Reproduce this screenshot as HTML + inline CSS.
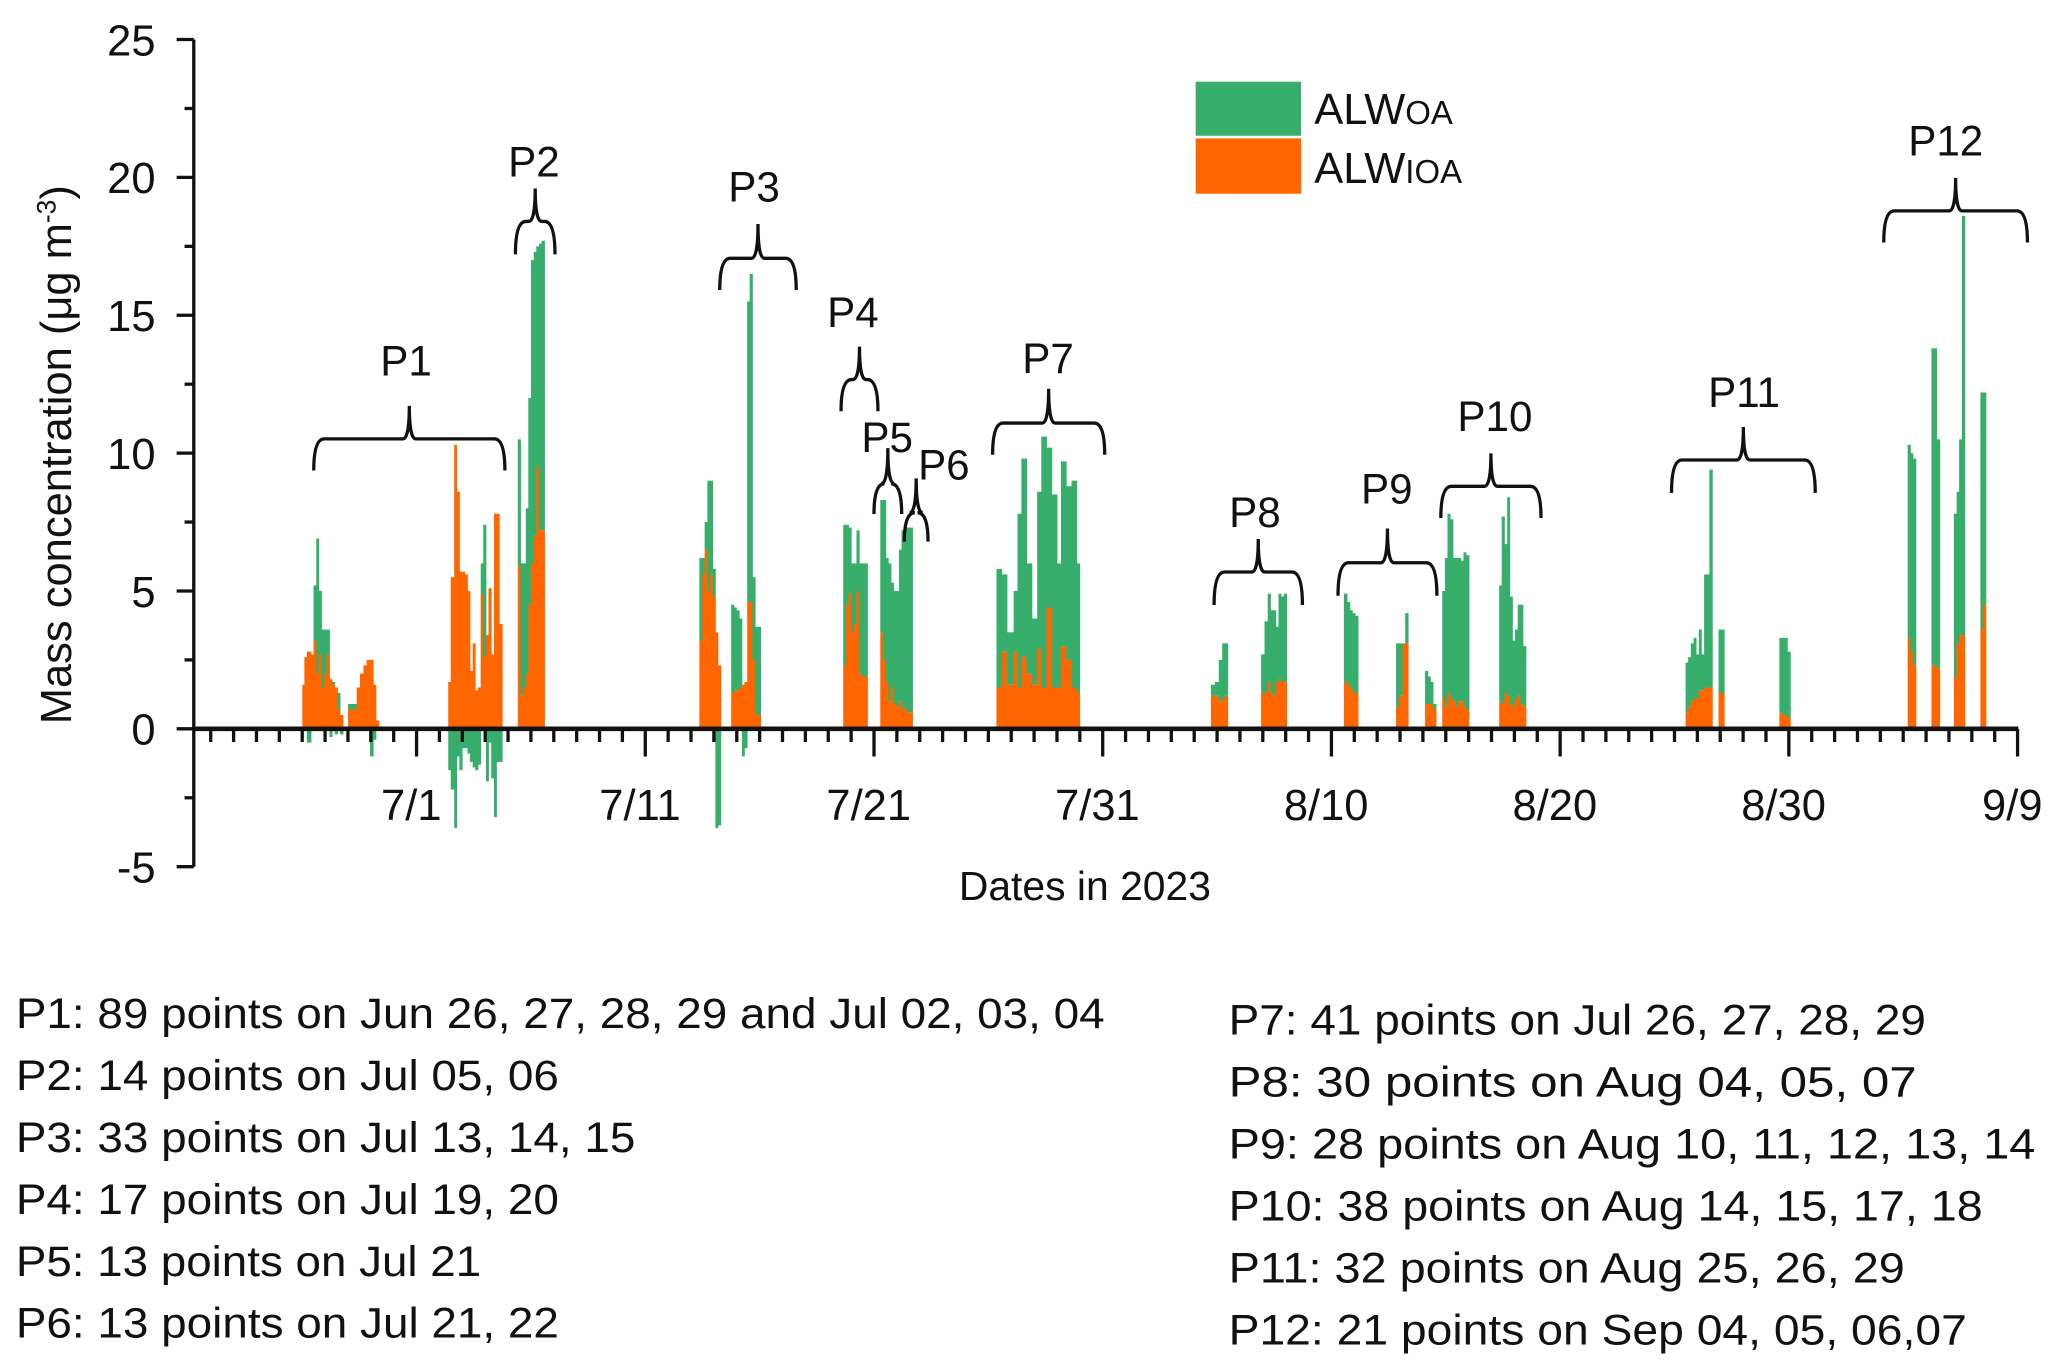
<!DOCTYPE html>
<html><head><meta charset="utf-8"><style>
html,body{margin:0;padding:0;background:#fff;}
svg{display:block;font-family:"Liberation Sans",Arial,sans-serif;}
</style></head><body>
<svg id="chart" width="2067" height="1372" viewBox="0 0 1568 1041" preserveAspectRatio="none" xmlns="http://www.w3.org/2000/svg">
<rect width="1568" height="1041" fill="#fff"/>
<g id="bars"></g>
<g id="axes"></g>
<g id="braces"></g>
<text transform="translate(54,345) rotate(-90)" text-anchor="middle" font-size="33" fill="#111">Mass concentration (μg m<tspan font-size="20" dy="-12">-3</tspan><tspan dy="12">)</tspan></text>
<text x="823" y="683" text-anchor="middle" font-size="31" fill="#111">Dates in 2023</text>
<g>
<rect x="907" y="62" width="80" height="41" fill="#37ae6b"/>
<rect x="907" y="105" width="80" height="42" fill="#ff6600"/>
<text x="997" y="94" font-size="33" fill="#111">ALW<tspan font-size="25">OA</tspan></text>
<text x="997" y="139" font-size="33" fill="#111">ALW<tspan font-size="25">IOA</tspan></text>
</g>
<g id="notes"></g>
</svg>
<script>
const NS='http://www.w3.org/2000/svg';
// days since Jul 1 2023
const times=[-4.93,-4.84,-4.73,-4.55,-4.44,-4.32,-4.21,-4.09,-3.97,-3.86,-3.74,-3.63,-3.51,-3.39,-3.28,-2.93,-2.81,-2.55,-2.41,-2.26,-2.12,-1.97,-1.83,-1.71,
1.45,1.56,1.71,1.82,1.94,2.06,2.17,2.29,2.40,2.52,2.63,2.75,2.87,2.98,3.10,3.21,3.33,3.45,3.56,3.68,
4.49,4.61,4.72,4.84,4.95,5.07,5.19,5.30,5.42,5.53,
12.43,12.55,12.66,12.78,12.89,13.01,13.13,13.24,13.82,13.94,14.05,14.17,14.29,14.40,14.52,14.63,14.75,14.87,14.98,
18.72,18.84,18.95,19.07,19.18,19.30,19.42,19.53,19.65,
20.34,20.46,20.58,20.69,20.81,20.92,
21.04,21.16,21.27,21.39,21.50,21.62,
25.42,25.65,25.88,26.17,26.34,26.51,26.74,26.97,27.20,27.38,27.61,27.84,28.07,28.24,28.47,28.70,28.93,
34.80,34.97,35.14,35.29,35.40,36.99,37.14,37.28,37.40,37.51,37.63,37.75,37.86,37.98,
40.61,40.75,40.87,40.98,41.10,42.89,43.03,43.18,43.29,44.16,44.28,44.39,44.51,
44.91,45.03,45.14,45.26,45.38,45.49,45.61,45.72,45.84,45.95,47.40,47.51,47.63,47.75,47.86,47.98,48.09,48.21,48.32,48.44,
55.55,55.66,55.78,55.90,56.01,56.13,56.24,56.36,56.47,56.59,56.99,57.11,59.65,59.77,59.88,60.00,
65.26,65.38,65.49,66.30,66.42,66.53,67.28,67.40,67.51,67.63,68.44,68.55];
const ioa=[1.6,2.6,2.8,2.7,3.2,2.0,2.7,1.5,2.0,2.7,1.8,1.6,1.5,0.7,0.5,0.7,0.7,1.5,2.0,2.3,2.5,2.5,1.6,0.3,
1.7,5.5,10.3,8.6,5.7,5.7,5.6,5.0,2.1,3.1,1.4,1.5,4.9,2.6,3.4,5.1,2.7,7.8,7.8,3.8,
5.9,1.2,1.5,2.0,4.5,6.0,7.0,9.5,7.2,7.2,
3.2,5.6,6.5,5.0,5.6,4.8,3.5,2.3,1.3,1.4,1.4,1.5,1.6,1.7,4.6,4.6,2.5,0.5,0.5,
2.3,4.5,4.9,3.5,3.8,5.0,2.0,1.9,1.9,
3.5,2.5,1.7,1.0,1.5,0.9,
0.8,1.0,0.7,0.8,0.6,0.6,
1.5,2.8,1.6,2.8,1.5,2.6,2.0,1.6,2.9,1.5,4.4,1.5,1.5,3.0,2.5,1.5,1.3,
1.2,1.2,1.0,1.1,1.2,1.3,1.3,1.7,1.3,1.2,1.7,1.8,1.7,1.7,
1.7,1.6,1.5,1.3,1.3,0.8,1.2,3.1,3.1,0.9,0.9,0.9,0.7,
1.1,0.8,1.3,1.1,1.0,0.8,1.0,1.0,0.8,0.7,1.0,0.9,1.3,1.2,0.9,0.8,1.1,1.2,0.9,0.8,
0.6,0.8,1.0,1.1,1.1,1.4,1.4,1.5,1.5,1.5,1.3,1.3,0.6,0.5,0.5,0.4,
3.3,2.8,2.3,2.3,2.3,2.2,1.9,3.1,3.4,3.4,3.6,4.5];
const oa=[0,0,-0.5,0,2.0,4.9,2.3,2.1,1.6,0.9,-0.3,0.1,-0.2,0.6,-0.2,0.2,0.2,0,0,0,0,-1.0,-0.4,0,
-1.5,-2.2,-3.6,-1.0,-1.5,-0.7,-0.7,-0.9,-1.2,-1.4,-1.5,-1.3,1.1,4.8,-1.9,-0.5,-1.8,-3.2,-1.2,-1.2,
4.6,4.8,4.5,6.0,7.5,11.0,10.3,8.0,10.4,10.5,
3.0,0.6,1.0,4.0,3.4,1.0,-3.6,-3.5,3.2,3.0,2.9,2.5,-1.0,-0.7,10.9,11.9,3.0,3.2,3.2,
5.1,2.9,2.4,2.5,2.2,2.2,4.0,4.1,4.1,
4.8,5.8,4.5,5.0,3.8,4.1,
4.2,5.5,6.5,6.5,6.7,6.7,
4.3,2.8,1.9,2.2,6.3,7.2,4.0,2.4,5.7,9.1,5.8,7.0,4.5,6.7,6.3,7.5,4.7,
0.4,0.5,1.5,2.0,1.9,1.4,2.6,3.2,3.0,3.1,2.0,3.1,3.1,3.2,
3.2,3.0,2.8,2.9,2.8,2.3,1.9,0,1.1,1.2,1.0,0.8,0.2,
3.9,5.4,6.5,6.5,5.2,5.4,5.2,5.1,5.6,5.6,4.2,6.8,5.4,7.2,3.9,2.4,2.5,3.3,3.6,2.2,
1.8,1.8,2.1,2.2,1.6,2.2,1.3,4.1,4.1,7.9,2.3,2.3,2.7,2.8,2.8,2.4,
7.0,7.2,7.5,11.5,11.5,8.3,5.9,5.5,7.1,15.2,8.6,7.7];
const yTicks=[-5,0,5,10,15,20,25];
const xTickDays=[0,10,20,30,40,50,60,70];
const xTickLabels=['7/1','7/11','7/21','7/31','8/10','8/20','8/30','9/9'];
const periods=['P1','P2','P3','P4','P5','P6','P7','P8','P9','P10','P11','P12'];

const X0=316, PXD=17.35, Y0=553, PXU=20.92;
const xs=t=>X0+t*PXD, ys=v=>Y0-v*PXU;
function mk(tag,attrs,parent){const e=document.createElementNS(NS,tag);for(const k in attrs)e.setAttribute(k,attrs[k]);parent.appendChild(e);return e;}
const bars=document.getElementById('bars'), axes=document.getElementById('axes');
times.forEach((t,i)=>{
  const gap=i<times.length-1?times[i+1]-t:1;
  const wd=(gap<0.3?gap:0.13)*PXD;
  const x=xs(t)-0.065*PXD, a=ioa[i], b=oa[i];
  const r=mk('rect',{x:x,y:ys(a),width:wd+0.3,height:a*PXU,fill:'#ff6600'},bars);
  
  
  let g;
  if(b>=0){g=mk('rect',{x:x,y:ys(a+b),width:wd+0.3,height:b*PXU,fill:'#37ae6b'},bars);}
  else{g=mk('rect',{x:x,y:ys(0),width:wd+0.3,height:-b*PXU,fill:'#37ae6b'},bars);}
  
  
});
// y axis
mk('line',{x1:147,y1:ys(25),x2:147,y2:ys(-5),stroke:'#111','stroke-width':2.5},axes);
for(let v=-5;v<=25;v+=2.5){const major=v%5===0;mk('line',{x1:major?134:140,y1:ys(v),x2:147,y2:ys(v),stroke:'#111','stroke-width':2.5},axes);}
yTicks.forEach(v=>{const t=mk('text',{x:118,y:ys(v)+12,'text-anchor':'end','font-size':33,fill:'#111'},axes);t.textContent=v;

});
// x axis
mk('line',{x1:147,y1:Y0,x2:1531,y2:Y0,stroke:'#111','stroke-width':3.5},axes);
for(let d=-9;d<=70;d++){const major=xTickDays.includes(d);mk('line',{x1:xs(d),y1:Y0,x2:xs(d),y2:major?574:563,stroke:'#111','stroke-width':2.5},axes);}
xTickDays.forEach((d,i)=>{const t=mk('text',{x:xs(d)-4,y:622,'text-anchor':'middle','font-size':33,fill:'#111'},axes);t.textContent=xTickLabels[i];

});
// braces: [x1,x2,y,ends,tip,labelX,labelY]
const bg=document.getElementById('braces');
const bspec=[[238,383,333,357,308,308,285],[391,421,168,193,143,405,134],[546,604,196,220,170,572,153],[638,666,288,312,263,647,248],[663,684,367,390,340,673,343],[686,704,389,411,363,716,364],[753,838,321,345,295,795,283],[921,988,434,459,409,952,400],[1015,1090,427,452,401,1052,382],[1093,1169,369,393,344,1134,327],[1268,1377,349,374,324,1323,309],[1429,1538,160,184,135,1476,118]];
bspec.forEach((s,i)=>{const [a,b,y,e,tp,lx,ly]=s,m=(a+b)/2;
 const p=mk('path',{d:`M${a},${e} Q${a},${y} ${a+8},${y} L${m-5},${y} Q${m},${y} ${m},${tp} Q${m},${y} ${m+5},${y} L${b-8},${y} Q${b},${y} ${b},${e}`,fill:'none',stroke:'#111','stroke-width':2.5},bg);
 
 
 const t=mk('text',{x:lx,y:ly,'text-anchor':'middle','font-size':32,fill:'#111'},bg);t.textContent=periods[i];
 
 
});
// notes
const notesL=['P1: 89 points on Jun 26, 27, 28, 29 and Jul 02, 03, 04','P2: 14 points on Jul 05, 06','P3: 33 points on Jul 13, 14, 15','P4: 17 points on Jul 19, 20','P5: 13 points on Jul 21','P6: 13 points on Jul 21, 22'];
const notesR=['P7: 41 points on Jul 26, 27, 28, 29','P8: 30 points on Aug 04, 05, 07','P9: 28 points on Aug 10, 11, 12, 13, 14','P10: 38 points on Aug 14, 15, 17, 18','P11: 32 points on Aug 25, 26, 29','P12: 21 points on Sep 04, 05, 06,07'];
const endL=[838,424,482,424,365,424], endR=[1461,1454,1544,1504,1445,1492];
const ng=document.getElementById('notes');
notesL.forEach((s,i)=>{const t=mk('text',{x:12,y:780+i*47,'font-size':32,fill:'#111',textLength:endL[i]-12,lengthAdjust:'spacingAndGlyphs'},ng);t.textContent=s;

});
notesR.forEach((s,i)=>{const t=mk('text',{x:932,y:785+i*47,'font-size':32,fill:'#111',textLength:endR[i]-932,lengthAdjust:'spacingAndGlyphs'},ng);t.textContent=s;

});
</script>
</body></html>
